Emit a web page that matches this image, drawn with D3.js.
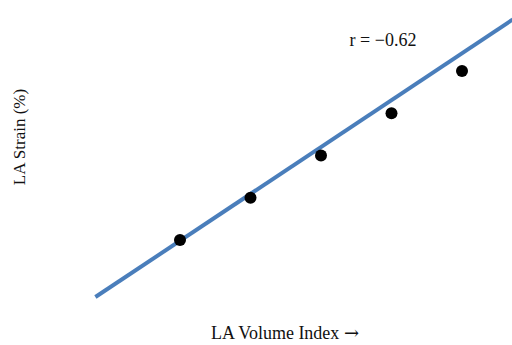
<!DOCTYPE html>
<html>
<head>
<meta charset="utf-8">
<script src="https://cdn.jsdelivr.net/npm/d3@7"></script>
<style>
  body { margin: 0; background: #fff; }
  text { font-family: "Liberation Serif", "Times New Roman", serif; fill: #111; }
</style>
</head>
<body>
<svg id="chart" width="512" height="345"></svg>
<script>
// values (abstract units, no axes shown)
const volumeIndex = [1, 2, 3, 4, 5];
const strain = [1, 2, 3, 4, 5];
const trendX = [-0.2, 5.72];
const trendY = [-0.35, 6.22];
const rLabel = 'r = \u22120.62';

const svg = d3.select('#chart');

const x = d3.scaleLinear().domain([1, 5]).range([180, 462]);
const y = d3.scaleLinear().domain([1, 5]).range([240, 71]);

const trend = trendX.map((d, i) => [d, trendY[i]]);
svg.append('path')
  .datum(trend)
  .attr('fill', 'none')
  .attr('stroke', '#4a7ebb')
  .attr('stroke-width', 4)
  .attr('d', d3.line().x(d => x(d[0])).y(d => y(d[1])));

const pts = volumeIndex.map((d, i) => ({ x: d, y: strain[i] }));
svg.selectAll('circle.pt')
  .data(pts)
  .join('circle')
  .attr('class', 'pt')
  .attr('cx', d => x(d.x))
  .attr('cy', d => y(d.y))
  .attr('r', 6)
  .attr('fill', '#000');

svg.append('text')
  .attr('x', 383)
  .attr('y', 46)
  .attr('text-anchor', 'middle')
  .style('font-size', '18px')
  .text(rLabel);

svg.append('text')
  .attr('transform', 'translate(25,137) rotate(-90)')
  .attr('text-anchor', 'middle')
  .style('font-size', '17px')
  .text('LA Strain (%)');

// arrow glyph is missing from Liberation Serif, borrow DejaVu's
const xl = svg.append('text')
  .attr('x', 285)
  .attr('y', 339)
  .attr('text-anchor', 'middle')
  .style('font-size', '18px');
xl.append('tspan').text('LA Volume Index ');
xl.append('tspan').style('font-family', '"DejaVu Serif", serif').text('\u2192');
</script>
</body>
</html>
